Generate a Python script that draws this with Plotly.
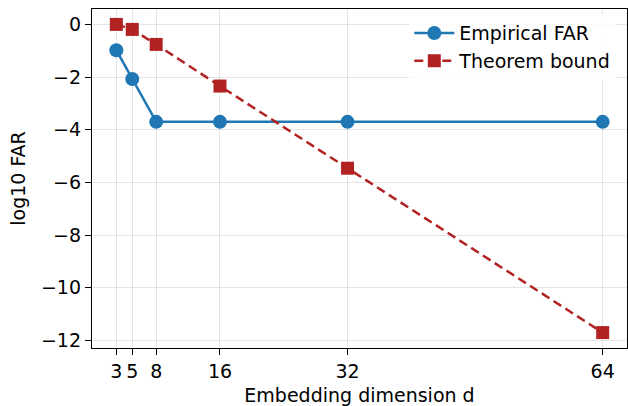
import plotly.graph_objects as go

dims = [3, 5, 8, 16, 32, 64]
empirical_far = [-0.98, -2.07, -3.70, -3.70, -3.70, -3.70]
theorem_bound = [0.0, -0.19, -0.76, -2.34, -5.46, -11.70]
x_ticks = [3, 5, 8, 16, 32, 64]
y_ticks = [0, -2, -4, -6, -8, -10, -12]

fig = go.Figure()
fig.add_trace(go.Scatter(
    x=dims, y=empirical_far, mode="lines+markers", name="Empirical FAR",
    line=dict(color="#1f77b4", width=2.5),
    marker=dict(symbol="circle", size=14, color="#1f77b4"),
))
fig.add_trace(go.Scatter(
    x=dims, y=theorem_bound, mode="lines+markers", name="Theorem bound",
    line=dict(color="#b22222", width=2.5, dash="9px,5px"),
    marker=dict(symbol="square", size=13, color="#b22222"),
))

font = dict(family="DejaVu Sans", size=19, color="#000")
axis_common = dict(
    showline=True, linecolor="#000", linewidth=1.3, mirror=True,
    showgrid=True, gridcolor="rgba(0,0,0,0.1)", gridwidth=1,
    ticks="outside", ticklen=6, tickcolor="#000", zeroline=False,
    tickfont=font,
)
fig.update_layout(
    width=628, height=406,
    margin=dict(l=92, r=1, t=9, b=58),
    plot_bgcolor="white", paper_bgcolor="white",
    font=font,
    xaxis=dict(range=[-0.05, 67.05], tickvals=x_ticks,
               ticktext=[str(t) for t in x_ticks],
               title=dict(text="Embedding dimension d", font=font, standoff=9),
               automargin=False,
               **axis_common),
    yaxis=dict(range=[-12.285, 0.585], tickvals=y_ticks,
               ticktext=[("\u2212" + str(-t)) if t < 0 else str(t) for t in y_ticks],
               title=dict(text="log10 FAR", font=font, standoff=10),
               automargin=False,
               **axis_common),
    legend=dict(x=0.98, y=0.985, xanchor="right", yanchor="top",
                bgcolor="rgba(255,255,255,0.8)", font=font, itemwidth=40),
    showlegend=True,
)
fig.write_html("out.html", config={"displayModeBar": False},
               post_script="document.body.style.margin='0px';")
